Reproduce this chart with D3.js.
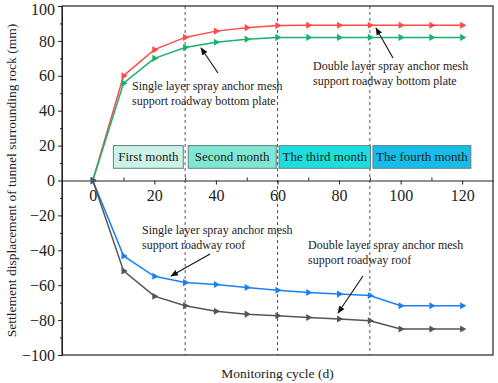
<!DOCTYPE html>
<html lang="en">
<head>
    <meta charset="UTF-8">
    <script src="https://d3js.org/d3.v7.min.js"></script>
    <title>Settlement displacement</title>
    <style>
        body { margin: 0; background: #fff; }
        text { font-family: 'Liberation Serif', 'Times New Roman', serif; fill: #222; }
    </style>
</head>
<body>
<script>
    const width = 498, height = 383;

    // monitoring cycle (d)
    const days = [0, 10, 20, 30, 40, 50, 60, 70, 80, 90, 100, 110, 120];
    const doubleBottom = [0, 60, 75, 82, 85.6, 87.6, 88.8, 89, 89, 89, 89, 89, 89];
    const singleBottom = [0, 55.8, 70, 76.2, 79.2, 81, 82, 82, 82, 82, 82, 82, 82];
    const singleRoof = [0, -43.2, -54.9, -58.5, -59.6, -61.3, -62.9, -64.2, -65.1, -65.9, -71.8, -71.8, -71.8];
    const doubleRoof = [0, -51.8, -66.3, -71.8, -74.9, -76.6, -77.5, -78.5, -79.4, -80.4, -85.1, -85.1, -85.1];

    const monthNames = ["First month", "Second month", "The third month", "The fourth month"];
    const monthBounds = [30, 60, 90];
    const xTicks = [0, 20, 40, 60, 80, 100, 120];
    const yTicks = [-100, -80, -60, -40, -20, 0, 20, 40, 60, 80, 100];

    const series = [
        {values: doubleBottom, color: "#ff4a4a"},
        {values: singleBottom, color: "#17b26c"},
        {values: singleRoof, color: "#1a80f0"},
        {values: doubleRoof, color: "#555555"}
    ];

    const m = {left: 62, right: 493, top: 6, bottom: 355};
    const x = d3.scaleLinear().domain([-10, 130]).range([m.left, m.right]);
    const y = d3.scaleLinear().domain([-100, 100]).range([m.bottom, m.top]);

    const svg = d3.select("body").append("svg")
        .attr("width", width).attr("height", height);

    svg.append("defs").append("marker")
        .attr("id", "arrow")
        .attr("viewBox", "0 0 10 10")
        .attr("refX", 9).attr("refY", 5)
        .attr("markerWidth", 7).attr("markerHeight", 7)
        .attr("orient", "auto")
        .append("path").attr("d", "M0,1 L10,5 L0,9 Z").attr("fill", "#111");

    // month dividers
    svg.selectAll(".divider").data(monthBounds).join("line")
        .attr("x1", d => x(d)).attr("x2", d => x(d))
        .attr("y1", m.top).attr("y2", m.bottom)
        .attr("stroke", "#555").attr("stroke-width", 1)
        .attr("stroke-dasharray", "3,3");

    // month boxes
    const boxFill = ["#cbf3e6", "#80e7d3", "#1ddede", "#16bde8"];
    const boxSpan = [[6.7, 29.4], [31, 59.6], [60.5, 90.2], [91, 122.8]];
    const boxes = svg.selectAll(".month").data(monthNames).join("g");
    boxes.append("rect")
        .attr("x", (d, i) => x(boxSpan[i][0]))
        .attr("width", (d, i) => x(boxSpan[i][1]) - x(boxSpan[i][0]))
        .attr("y", y(20)).attr("height", y(7) - y(20))
        .attr("fill", (d, i) => boxFill[i])
        .attr("stroke", "#5f8088").attr("stroke-width", 1);
    boxes.append("text")
        .attr("x", (d, i) => (x(boxSpan[i][0]) + x(boxSpan[i][1])) / 2)
        .attr("y", (y(20) + y(7)) / 2 + 4.5)
        .attr("text-anchor", "middle")
        .style("font-size", "13px")
        .text(d => d);

    // axes
    svg.append("g").attr("transform", `translate(${m.left},0)`)
        .call(d3.axisLeft(y).tickValues(yTicks).tickSize(4).tickPadding(3))
        .selectAll(".tick text").filter(d => d === 100).attr("dy", "0.5em");
    svg.append("g").attr("transform", `translate(${m.left},0)`)
        .call(d3.axisLeft(y).tickValues(d3.range(-90, 100, 20)).tickSize(2).tickFormat(""))
        .select(".domain").remove();
    svg.append("g").attr("transform", `translate(0,${y(0)})`)
        .call(d3.axisBottom(x).tickValues(xTicks).tickSize(4).tickPadding(5).tickSizeOuter(0));
    svg.append("g").attr("transform", `translate(0,${y(0)})`)
        .call(d3.axisTop(x).tickValues(d3.range(10, 121, 20)).tickSize(3).tickFormat(""))
        .select(".domain").remove();
    svg.selectAll(".tick text").style("font-size", "16px").attr("fill", "#333");
    svg.selectAll(".domain, .tick line").attr("stroke", "#222");

    // frame
    svg.append("rect")
        .attr("x", m.left).attr("y", m.top)
        .attr("width", m.right - m.left).attr("height", m.bottom - m.top)
        .attr("fill", "none").attr("stroke", "#222").attr("stroke-width", 1.2);

    // series
    const line = d3.line().x((d, i) => x(days[i])).y(d => y(d));
    const tri = d3.symbol().type(d3.symbolTriangle).size(22);
    series.forEach(s => {
        svg.append("path").datum(s.values)
            .attr("d", line)
            .attr("fill", "none").attr("stroke", s.color).attr("stroke-width", 1.5);
        svg.append("g").selectAll("path").data(s.values).join("path")
            .attr("d", tri)
            .attr("transform", (d, i) => `translate(${x(days[i])},${y(d)}) rotate(90)`)
            .attr("fill", s.color);
    });

    // annotations
    const notes = [
        {lines: ["Single layer spray anchor mesh", "support roadway bottom plate"], tx: 132, ty: 90, from: [218, 73], to: [201, 48]},
        {lines: ["Double layer spray anchor mesh", "support roadway bottom plate"], tx: 313, ty: 70, from: [393, 58], to: [376, 28]},
        {lines: ["Single layer spray anchor mesh", "support roadway roof"], tx: 142, ty: 234, from: [210, 254], to: [171, 276]},
        {lines: ["Double layer spray anchor mesh", "support roadway roof"], tx: 308, ty: 249, from: [363, 276], to: [338, 313]}
    ];
    notes.forEach(n => {
        const t = svg.append("text").attr("x", n.tx).attr("y", n.ty).style("font-size", "12px");
        n.lines.forEach((l, i) => t.append("tspan").attr("x", n.tx).attr("dy", i ? 14.5 : 0).text(l));
        svg.append("line")
            .attr("x1", n.from[0]).attr("y1", n.from[1])
            .attr("x2", n.to[0]).attr("y2", n.to[1])
            .attr("stroke", "#111").attr("stroke-width", 1.1)
            .attr("marker-end", "url(#arrow)");
    });

    // axis titles
    svg.append("text")
        .attr("x", (m.left + m.right) / 2).attr("y", 378)
        .attr("text-anchor", "middle")
        .style("font-size", "13.5px")
        .text("Monitoring cycle (d)");
    svg.append("text")
        .attr("transform", `translate(16,${(m.top + m.bottom) / 2}) rotate(-90)`)
        .attr("text-anchor", "middle")
        .style("font-size", "13.5px")
        .text("Settlement displacement of tunnel surrounding rock (mm)");
</script>
</body>
</html>
